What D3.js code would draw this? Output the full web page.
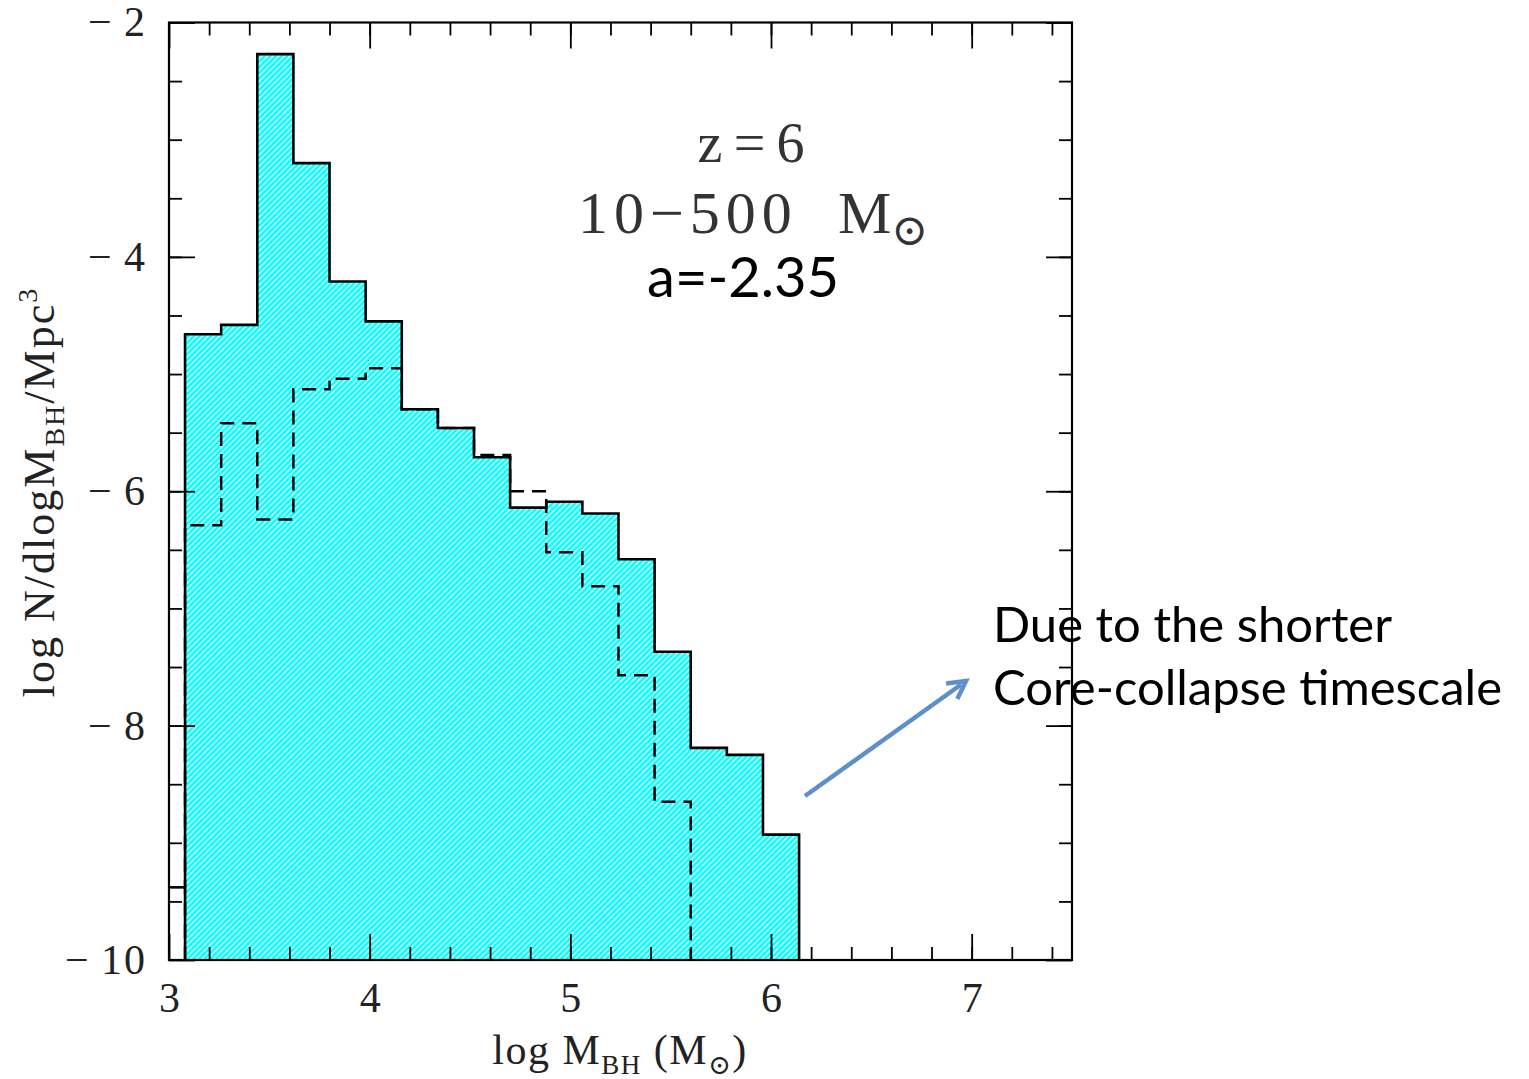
<!DOCTYPE html>
<html><head><meta charset="utf-8">
<script src="https://cdn.jsdelivr.net/npm/d3@7"></script>
<style>
html,body{margin:0;padding:0;background:#fff;}
svg{display:block;}
</style></head>
<body>
<svg id="chart" width="1529" height="1079"></svg>
<script>
// ---- data ----
const binEdges = [3.08,3.26,3.44,3.62,3.80,3.98,4.16,4.34,4.52,4.70,4.88,5.06,5.24,5.42,5.60,5.78,5.96,6.14];
const solidValues = [-4.66,-4.58,-2.27,-3.20,-4.21,-4.55,-5.30,-5.46,-5.71,-6.14,-6.09,-6.19,-6.58,-7.37,-8.19,-8.25,-8.93];
const dashedValues = [-6.29,-5.42,-6.24,-5.13,-5.04,-4.95,-5.30,-5.46,-5.69,-6.00,-6.52,-6.81,-7.57,-8.65];
const stubEdges = [3.0,3.08];
const stubValues = [-9.38];
const xMajorTicks = [3,4,5,6,7];
const xMinorTicks = d3.range(3.2,7.5,0.2).map(v=>+v.toFixed(1));
const yMajorTicks = [-10,-8,-6,-4,-2];
const yMinorTicks = d3.range(-9.5,-2,0.5);
const xDomain = [3,7.5];
const yDomain = [-10,-2];

// ---- layout ----
const L=169, R=1072, T=22.5, B=960;
const svg = d3.select("#chart");
const x = d3.scaleLinear().domain(xDomain).range([L,R]);
const y = d3.scaleLinear().domain(yDomain).range([B,T]);
const serif = "'Liberation Serif','DejaVu Serif',serif";
const sans = "Lato,'Open Sans','Noto Sans',sans-serif";

// hatch pattern
const defs = svg.append("defs");
const pat = defs.append("pattern").attr("id","hatch").attr("patternUnits","userSpaceOnUse")
  .attr("width",4).attr("height",4).attr("patternTransform","rotate(45)");
pat.append("rect").attr("width",4).attr("height",4).attr("fill","#00ffff");
pat.append("line").attr("x1",0.7).attr("y1",0).attr("x2",0.7).attr("y2",4)
  .attr("stroke","#ffffff").attr("stroke-width",1.4).attr("stroke-opacity",0.9);

function stepPoints(edges, vals){
  const pts = vals.map((v,i)=>[edges[i], v]);
  pts.push([edges[vals.length], vals[vals.length-1]]);
  return pts;
}
const area = d3.area().curve(d3.curveStepAfter).x(d=>x(d[0])).y0(y(-10)).y1(d=>y(d[1]));
const line = d3.line().curve(d3.curveStepAfter).x(d=>x(d[0])).y(d=>y(d[1]));

const solidPts = stepPoints(binEdges, solidValues);
svg.append("path").datum(solidPts).attr("d",area).attr("fill","url(#hatch)");

// dashed histogram
const dashPts = [[binEdges[0],-10]].concat(stepPoints(binEdges, dashedValues));
dashPts.push([binEdges[dashedValues.length], -10]);
svg.append("path").datum(dashPts).attr("d",line)
  .attr("fill","none").attr("stroke","#000").attr("stroke-width",2.5).attr("stroke-dasharray","14,8");

// solid outline
const solidOutline = [[binEdges[0],-10]].concat(solidPts);
solidOutline.push([binEdges[solidValues.length],-10]);
svg.append("path").datum(solidOutline).attr("d",line)
  .attr("fill","none").attr("stroke","#000").attr("stroke-width",2.6);

// stub
svg.append("path").datum(stepPoints(stubEdges, stubValues)).attr("d",line)
  .attr("fill","none").attr("stroke","#000").attr("stroke-width",2.6);

// axes (inward ticks)
function styleAxis(g){
  g.select(".domain").remove();
  g.selectAll(".tick line").attr("stroke","#000").attr("stroke-width",1.8);
  g.selectAll("text").attr("font-family",serif).attr("font-size",42).attr("fill","#222");
}
const fmt = d => d<0 ? "\u2212\u2009"+Math.abs(d) : String(d);
svg.append("g").attr("transform",`translate(0,${B})`)
  .call(d3.axisBottom(x).tickValues(xMajorTicks).tickSize(-26).tickPadding(22).tickFormat(fmt)).call(styleAxis);
svg.append("g").attr("transform",`translate(0,${B})`)
  .call(d3.axisBottom(x).tickValues(xMinorTicks).tickSize(-13).tickFormat("")).call(styleAxis);
svg.append("g").attr("transform",`translate(0,${T})`)
  .call(d3.axisTop(x).tickValues(xMajorTicks).tickSize(-26).tickFormat("")).call(styleAxis);
svg.append("g").attr("transform",`translate(0,${T})`)
  .call(d3.axisTop(x).tickValues(xMinorTicks).tickSize(-13).tickFormat("")).call(styleAxis);
const yAx = svg.append("g").attr("transform",`translate(${L},0)`)
  .call(d3.axisLeft(y).tickValues(yMajorTicks).tickSize(-26).tickPadding(22).tickFormat(fmt)).call(styleAxis);
yAx.selectAll("text").attr("letter-spacing",2);
svg.append("g").attr("transform",`translate(${L},0)`)
  .call(d3.axisLeft(y).tickValues(yMinorTicks).tickSize(-13).tickFormat("")).call(styleAxis);
svg.append("g").attr("transform",`translate(${R},0)`)
  .call(d3.axisRight(y).tickValues(yMajorTicks).tickSize(-26).tickFormat("")).call(styleAxis);
svg.append("g").attr("transform",`translate(${R},0)`)
  .call(d3.axisRight(y).tickValues(yMinorTicks).tickSize(-13).tickFormat("")).call(styleAxis);

// frame
svg.append("rect").attr("x",L).attr("y",T).attr("width",R-L).attr("height",B-T)
  .attr("fill","none").attr("stroke","#000").attr("stroke-width",2.2);

// axis titles
const xl = svg.append("text").attr("x",620).attr("y",1064).attr("text-anchor","middle")
  .attr("font-family",serif).attr("font-size",42).attr("fill","#222").attr("letter-spacing",1.5);
xl.append("tspan").text("log  M");
xl.append("tspan").attr("font-size",27).attr("dy",10).text("BH");
xl.append("tspan").attr("dy",-10).text("  (M");
xl.append("tspan").attr("font-size",27).attr("dy",10).text("\u2299");
xl.append("tspan").attr("dy",-10).text(")");

const yl = svg.append("text").attr("transform","translate(54,492) rotate(-90)").attr("text-anchor","middle")
  .attr("font-family",serif).attr("font-size",44).attr("fill","#222").attr("letter-spacing",2);
yl.append("tspan").text("log  N/dlogM");
yl.append("tspan").attr("font-size",28).attr("dy",10).text("BH");
yl.append("tspan").attr("dy",-10).text("/Mpc");
yl.append("tspan").attr("font-size",28).attr("dy",-17).text("3");

// annotations
svg.append("text").attr("x",751).attr("y",162).attr("text-anchor","middle")
  .attr("font-family",serif).attr("font-size",56).attr("fill","#333").text("z\u2009=\u20096");
const t2 = svg.append("text").attr("x",578).attr("y",233)
  .attr("font-family",serif).attr("font-size",60).attr("fill","#333");
t2.append("tspan").attr("letter-spacing",6).text("10\u2212500");
t2.append("tspan").attr("x",838).text("M");
t2.append("tspan").attr("font-size",44).attr("dy",12).text("\u2299");
svg.append("text").attr("x",743).attr("y",297).attr("text-anchor","middle")
  .attr("font-family",sans).attr("font-size",56).attr("fill","#000").text("a=-2.35");

svg.append("text").attr("x",993).attr("y",642)
  .attr("font-family",sans).attr("font-size",49).attr("fill","#000").text("Due to the shorter");
svg.append("text").attr("x",993).attr("y",705)
  .attr("font-family",sans).attr("font-size",49).attr("fill","#000").text("Core-collapse timescale");

// arrow
const ax0=805, ay0=796, ax1=966, ay1=681;
const ang = Math.atan2(ay1-ay0, ax1-ax0);
svg.append("line").attr("x1",ax0).attr("y1",ay0).attr("x2",ax1-6*Math.cos(ang)).attr("y2",ay1-6*Math.sin(ang))
  .attr("stroke","#5f8fcb").attr("stroke-width",4.5).attr("stroke-linecap","butt");
const hl=20, ha=0.5;
svg.append("path").attr("d",
  `M${ax1-hl*Math.cos(ang-ha)},${ay1-hl*Math.sin(ang-ha)} L${ax1},${ay1} L${ax1-hl*Math.cos(ang+ha)},${ay1-hl*Math.sin(ang+ha)}`)
  .attr("fill","none").attr("stroke","#5f8fcb").attr("stroke-width",4.5).attr("stroke-linejoin","miter");
</script>
</body></html>
